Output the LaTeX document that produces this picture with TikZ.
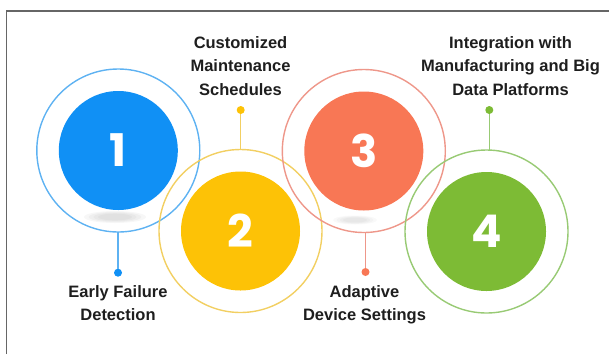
\documentclass[tikz,border=0pt]{standalone}
\usepackage{fontspec}
\setmainfont{Liberation Sans}
\newfontfamily\numfont{Poppins}
\begin{document}
\definecolor{blueFill}{HTML}{1090F5}
\definecolor{blueRing}{HTML}{5EB2F2}
\definecolor{yellowFill}{HTML}{FDC206}
\definecolor{yellowRing}{HTML}{F2CF62}
\definecolor{orangeFill}{HTML}{F87755}
\definecolor{orangeRing}{HTML}{EE978A}
\definecolor{greenFill}{HTML}{7DBB35}
\definecolor{greenRing}{HTML}{98CA74}
\definecolor{labelInk}{HTML}{1E1E1E}
\begin{tikzpicture}[x=1pt,y=-1pt,
  ring/.style={circle,draw=#1,line width=1.4pt,minimum size=163pt,inner sep=0pt},
  disc/.style={circle,fill=#1,minimum size=119pt,inner sep=0pt,text=white,
    font=\numfont\bfseries\fontsize{45}{45}\selectfont},
  stem/.style={draw=#1,line width=1.3pt},
  dot/.style={circle,fill=#1,minimum size=8pt,inner sep=0pt},
  caption/.style={align=center,inner sep=0pt,text=labelInk,
    font=\bfseries\fontsize{16.5}{23.5}\selectfont}]
  \useasboundingbox (0,0) rectangle (609,354);
  % frame edges (top and left only)
  \draw[line width=1.3pt,draw=black!60] (6.7,354) -- (6.7,11) -- (609,11);

  % soft shadows under the first and third discs
  \foreach \s in {1.0,0.85,0.7,0.55}{
    \fill[black,opacity=0.03] (115,217) ellipse ({31*\s} and {6*\s});
    \fill[black,opacity=0.022] (355,220) ellipse ({22*\s} and {4.5*\s});
  }

  % outer rings
  \node[ring=blueRing]   (r1) at (118.3,150.5) {};
  \node[ring=yellowRing] (r2) at (240.5,231)   {};
  \node[ring=orangeRing] (r3) at (363.8,151)   {};
  \node[ring=greenRing]  (r4) at (486.5,231.5) {};

  % filled numbered discs
  \node[disc=blueFill]   (c1) at (r1) {1};
  \node[disc=yellowFill] (c2) at (r2) {2};
  \node[disc=orangeFill] (c3) at (r3) {3};
  \node[disc=greenFill]  (c4) at (r4) {4};

  % stems and end dots
  \node[dot=blueFill]   (d1) at (118,272.7) {};
  \node[dot=yellowFill] (d2) at (240.7,110) {};
  \node[dot=orangeFill] (d3) at (365.5,272) {};
  \node[dot=greenFill]  (d4) at (489.3,110) {};
  \coordinate (s1) at (118,232);
  \coordinate (s2) at (240.7,149.5);
  \coordinate (s3) at (365.5,232.5);
  \coordinate (s4) at (489.3,150.5);
  \draw[stem=blueRing]   (s1) -- (d1);
  \draw[stem=yellowRing] (s2) -- (d2);
  \draw[stem=orangeRing] (s3) -- (d3);
  \draw[stem=greenRing]  (s4) -- (d4);

  % captions
  \node[caption,anchor=north] (t1) at (118,285)  {Early Failure\\Detection};
  \node[caption,anchor=north] (t2) at (240.5,36) {Customized\\Maintenance\\Schedules};
  \node[caption,anchor=north] (t3) at (364.5,285) {Adaptive\\Device Settings};
  \node[caption,anchor=north] (t4) at (510.5,36) {Integration with\\Manufacturing and Big\\Data Platforms};
\end{tikzpicture}
\end{document}
